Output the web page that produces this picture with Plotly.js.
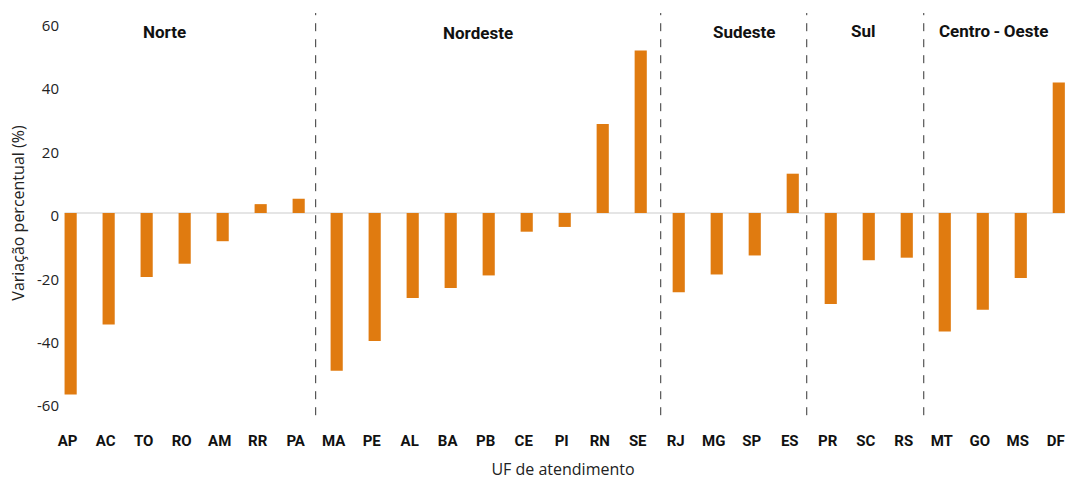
<!DOCTYPE html>
<html>
<head>
<meta charset="utf-8">
<script src="https://cdn.plot.ly/plotly-3.0.1.min.js"></script>
<style>html,body{margin:0;padding:0;background:#fff;}#chart{width:1066px;height:480px;}</style>
</head>
<body>
<div id="chart"></div>
<script>
// ---- data ----
var states  = ["AP","AC","TO","RO","AM","RR","PA","MA","PE","AL","BA","PB","CE","PI","RN","SE","RJ","MG","SP","ES","PR","SC","RS","MT","GO","MS","DF"];
var regions = ["Norte","Norte","Norte","Norte","Norte","Norte","Norte",
               "Nordeste","Nordeste","Nordeste","Nordeste","Nordeste","Nordeste","Nordeste","Nordeste","Nordeste",
               "Sudeste","Sudeste","Sudeste","Sudeste",
               "Sul","Sul","Sul",
               "Centro-Oeste","Centro-Oeste","Centro-Oeste","Centro-Oeste"];
var values  = [-57.3,-35.2,-20.2,-16.0,-8.9,2.8,4.5,
               -49.8,-40.4,-26.8,-23.7,-19.7,-5.9,-4.4,28.1,51.3,
               -25.0,-19.4,-13.4,12.4,
               -28.7,-14.9,-14.1,
               -37.4,-30.5,-20.5,41.2];
var regionNames = ["Norte","Nordeste","Sudeste","Sul","Centro\u2009-\u2009Oeste"];
var yTicks = [-60,-40,-20,0,20,40,60];

// ---- layout helpers ----
var idx = states.map(function(_, i){ return i; });
var groups = [];
regions.forEach(function(r, i){
  if (!groups.length || groups[groups.length-1].name !== r) groups.push({name:r, start:i, end:i});
  else groups[groups.length-1].end = i;
});
var labelShift = [-20, -11, 8, -5, -8];   // px nudges for region labels
var labelDy    = [0, -1, 0, 1, 1];        // px nudges (vertical)
var sepNudge   = [-2, 1, -5, -2];         // px nudges for separators
var pitch = 38;
var boldFont = "Roboto, Liberation Sans, sans-serif";

var shapes = [{
  type:"line", xref:"x", yref:"y", x0:-0.16, x1:26.16, y0:0, y1:0,
  line:{color:"#dddddd", width:1.5}, layer:"below"
}];
groups.slice(0,-1).forEach(function(g, k){
  var xs = g.end + 0.5 + sepNudge[k]/pitch;
  shapes.push({type:"line", xref:"x", yref:"y", x0:xs, x1:xs, y0:-63.8, y1:63.1,
    line:{color:"#333333", width:1, dash:"8px,8px"}});
});
var annotations = groups.map(function(g, k){
  return {x:(g.start+g.end)/2, y:0.94, xref:"x", yref:"paper", yanchor:"middle",
    xshift:labelShift[k], yshift:labelDy[k],
    text:"<b>"+regionNames[k]+"</b>", showarrow:false,
    font:{family:boldFont, size:17, color:"#111"}};
});

var trace = {
  type:"bar", x:idx, y:values, width:0.32,
  marker:{color:"#e07b10", line:{width:0}},
  hoverinfo:"skip"
};

var layout = {
  width:1066, height:480,
  margin:{l:60, r:0, t:7, b:61},
  paper_bgcolor:"#fff", plot_bgcolor:"#fff",
  showlegend:false,
  font:{family:"Open Sans, sans-serif", color:"#222"},
  xaxis:{
    range:[-0.28, 26.19], tickmode:"array", tickvals:idx, ticktext:states.map(function(s){return "<b>"+s+"</b>";}),
    showgrid:false, zeroline:false, showline:false,
    ticks:"outside", ticklen:8, tickcolor:"rgba(0,0,0,0)",
    ticklabeloverflow:"allow", ticklabelshift:-3,
    tickfont:{family:boldFont, size:15, color:"#111"},
    title:{text:"UF de atendimento", font:{family:"Open Sans, sans-serif", size:16, color:"#222"}, standoff:14}
  },
  yaxis:{
    range:[-65, 65], tickmode:"array", tickvals:yTicks, ticktext:yTicks.map(String),
    showgrid:false, zeroline:false, showline:false, ticks:"",
    ticklabelshift:3,
    tickfont:{family:"Open Sans, sans-serif", size:15, color:"#222"},
    title:{text:"Variação percentual (%)", font:{family:"Open Sans, sans-serif", size:16, color:"#222"}, standoff:8}
  },
  shapes:shapes,
  annotations:annotations
};

Plotly.newPlot("chart", [trace], layout, {displayModeBar:false, staticPlot:true});
</script>
</body>
</html>
